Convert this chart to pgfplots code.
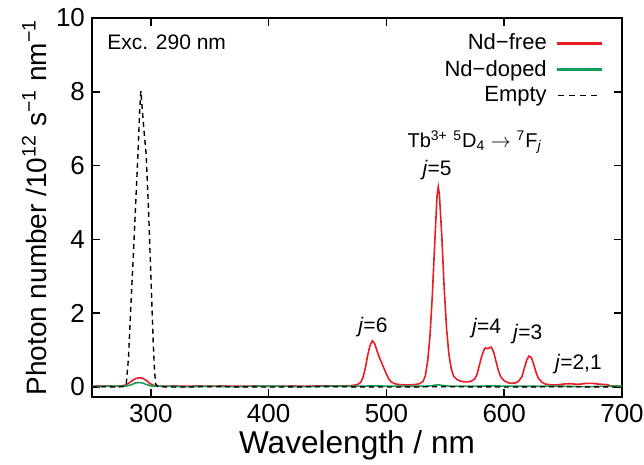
\documentclass[border=0pt]{standalone}
\usepackage{fontspec}
\setmainfont{Liberation Sans}
\usepackage{pgfplots}
\pgfplotsset{compat=1.18}

\definecolor{ndred}{RGB}{232,28,36}
\definecolor{ndgreen}{RGB}{20,158,90}

\begin{document}
\begin{tikzpicture}
\useasboundingbox (-46pt,-34pt) rectangle (276pt,198.5pt);
\begin{axis}[
  scale only axis, width=265pt, height=189.5pt,
  xmin=250, xmax=700, ymin=-0.27, ymax=10,
  xtick={300,400,500,600,700}, ytick={0,2,4,6,8,10},
  tick align=inside, major tick length=4pt,
  axis line style={line width=0.8pt}, every tick/.style={line width=0.8pt, black},
  /pgf/number format/assume math mode=true,
  tick label style={font=\fontsize{13}{15}\selectfont},
  xlabel={Wavelength / nm},
  ylabel={Photon number /10\textsuperscript{12} s\textsuperscript{−1} nm\textsuperscript{−1}},
  xlabel style={font=\fontsize{15.8}{18}\selectfont, yshift=3pt},
  ylabel style={font=\fontsize{14}{16}\selectfont, yshift=-2pt},
  legend plot pos=right, legend cell align=right,
  legend style={draw=none, fill=none, at={(0.975,0.98)}, anchor=north east,
    font=\fontsize{11}{13}\selectfont, row sep=-0.3pt, column sep=3pt},
]
\addplot[color=ndred, line width=0.8pt,
  legend image code/.code={\fill[ndred] (0pt,-0.45pt) rectangle (22pt,0.45pt);}] coordinates {
(250,0.02) (255,0.03) (260,0.02) (265,0.03) (270,0.02) (275,0.03) (278,0.05) (281,0.10) (284,0.17) (287,0.23) (290,0.25) (293,0.24) (296,0.18) (299,0.10) (302,0.05) (305,0.03) (310,0.02)
(320,0.03) (330,0.02) (340,0.03) (350,0.02) (360,0.03) (370,0.02) (380,0.02) (390,0.03) (400,0.02) (410,0.02) (420,0.03) (430,0.02) (440,0.03) (450,0.03) (460,0.03) (470,0.04)
(475,0.06) (478,0.12) (480,0.25) (482,0.50) (484,0.85) (486,1.12) (488,1.25) (490,1.18) (492,0.98) (494,0.80) (496,0.65) (498,0.50) (500,0.35) (502,0.22) (504,0.14) (507,0.09) (510,0.07) (515,0.06) (520,0.06) (525,0.07) (528,0.09)
(531,0.15) (533,0.30) (535,0.70) (537,1.40) (539,2.50) (541,3.90) (543,5.20) (544,5.42) (545,5.20) (547,4.10) (549,2.70) (551,1.60) (553,0.90) (555,0.50) (557,0.30) (560,0.20) (563,0.16) (566,0.14) (569,0.14) (572,0.16)
(575,0.22) (577,0.35) (579,0.60) (581,0.85) (583,1.02) (584,1.06) (586,1.04) (588,1.07) (589,1.08) (591,0.95) (593,0.70) (595,0.45) (597,0.28) (600,0.17) (603,0.12) (606,0.10) (609,0.11)
(612,0.15) (615,0.28) (617,0.50) (619,0.72) (621,0.84) (623,0.80) (625,0.62) (627,0.40) (629,0.24) (632,0.13) (635,0.08) (640,0.06) (645,0.06) (650,0.08) (655,0.09) (660,0.08) (665,0.08) (670,0.10) (675,0.10) (680,0.08) (685,0.07) (688,0.06) (690,0.03) (695,0.02) (700,0.02)
};
\addlegendentry{Nd−free}
\addplot[color=ndgreen, line width=0.8pt,
  legend image code/.code={\fill[ndgreen] (0pt,-0.45pt) rectangle (22pt,0.45pt);}] coordinates {
(250,0.01) (260,0.02) (270,0.02) (280,0.03) (284,0.07) (287,0.11) (290,0.12) (293,0.11) (296,0.07) (300,0.03) (310,0.02) (330,0.01) (350,0.02) (370,0.01) (390,0.02) (410,0.02) (430,0.01) (450,0.02) (470,0.02) (490,0.03) (510,0.02) (530,0.02) (537,0.03) (541,0.05) (544,0.06) (548,0.04) (555,0.02) (570,0.02) (590,0.03) (610,0.02) (630,0.02) (650,0.02) (670,0.01) (690,0.02) (700,0.02)
};
\addlegendentry{Nd−doped}
\addplot[color=black, line width=0.7pt, dash pattern=on 2.5pt off 2pt,
  legend image code/.code={\draw[black, line width=0.7pt, dash pattern=on 3pt off 2.6pt] (0pt,0pt) -- (22pt,0pt);}] coordinates {
(250,0.00) (260,0.01) (270,0.00) (276,0.01) (279,0.05) (281,0.8) (283,2.2) (285,3.5) (287,4.9) (289,6.3) (290.5,7.5) (291.5,8.02) (292.5,7.6) (294,7.0) (296,6.3) (298,4.8) (300,3.0) (302,1.2) (303,0.5) (304,0.08) (306,0.01) (320,0.00) (350,0.01) (400,0.00) (450,0.01) (500,0.00) (550,0.01) (600,0.00) (650,0.01) (700,0.00)
};
\addlegendentry{Empty}
\node[anchor=west, font=\fontsize{10.5}{12}\selectfont] at (axis cs:257,9.35) {Exc. 290 nm};
\node[font=\fontsize{10}{12}\selectfont] at (axis cs:575,6.64) {Tb\textsuperscript{3+} \textsuperscript{5}D\textsubscript{4} $\rightarrow$ \textsuperscript{7}F\textsubscript{\textit{j}}};
\node[font=\fontsize{10.5}{12}\selectfont] at (axis cs:543,5.88) {\textit{j}=5};
\node[font=\fontsize{10.5}{12}\selectfont] at (axis cs:488.5,1.63) {\textit{j}=6};
\node[font=\fontsize{10.5}{12}\selectfont] at (axis cs:585,1.6) {\textit{j}=4};
\node[font=\fontsize{10.5}{12}\selectfont] at (axis cs:620,1.44) {\textit{j}=3};
\node[font=\fontsize{10.5}{12}\selectfont] at (axis cs:663,0.62) {\textit{j}=2,1};
\end{axis}
\end{tikzpicture}
\end{document}
